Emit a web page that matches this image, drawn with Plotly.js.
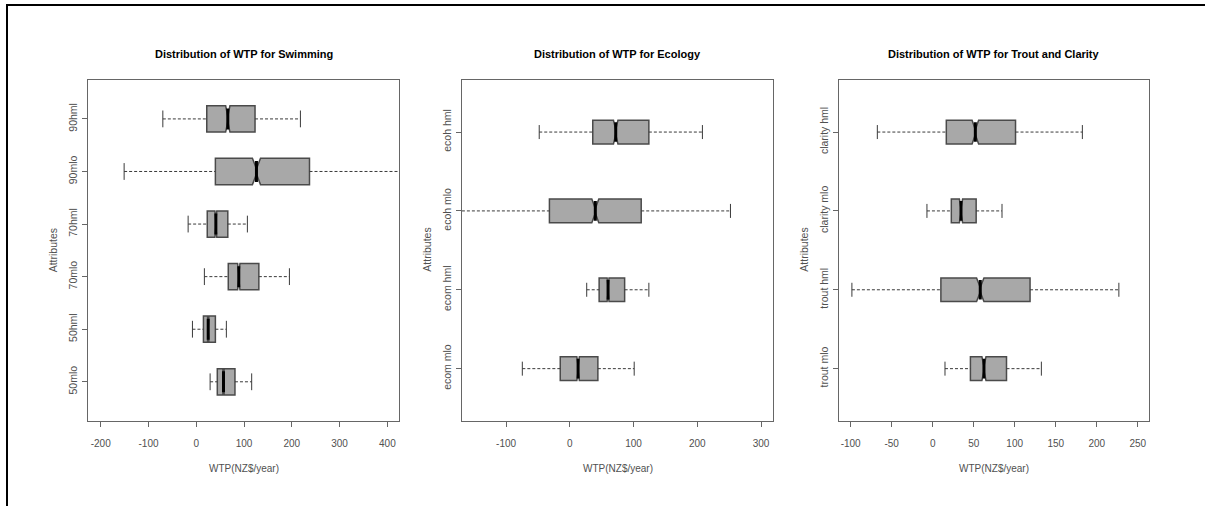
<!DOCTYPE html>
<html>
<head>
<meta charset="utf-8">
<script src="https://cdn.plot.ly/plotly-3.0.1.min.js"></script>
<style>
  html, body { margin: 0; padding: 0; background: #fff; overflow: hidden; }
  #wrap { position: relative; width: 1205px; height: 506px; overflow: hidden; }
  #chart { width: 1205px; height: 506px; }
  #frame { position: absolute; left: 6px; top: 4px; right: 0; bottom: 0;
           border-left: 2px solid #000; border-top: 2px solid #000; pointer-events: none; }
</style>
</head>
<body>
<div id="wrap"><div id="chart"></div><div id="frame"></div></div>
<script>
// ---------- Data ----------
// Panel 1: Swimming (bottom to top)
const swimCats   = ["50mlo", "50hml", "70mlo", "70hml", "90mlo", "90hml"];
const swimLow    = [29, -8, 17, -17, -151, -70];
const swimQ1     = [44, 15, 67, 23, 40, 22];
const swimMed    = [57, 25, 89, 41, 126, 66];
const swimQ3     = [81, 40, 131, 66, 237, 123];
const swimHigh   = [116, 63, 195, 107, 440, 218];
const swimNotch  = [1.5, 1.5, 2.5, 2, 8.5, 4.5];

// Panel 2: Ecology (bottom to top)
const ecoCats    = ["ecom mlo", "ecom hml", "ecoh mlo", "ecoh hml"];
const ecoLow     = [-74.5, 26.5, -185, -48];
const ecoQ1      = [-15, 46, -32, 36];
const ecoMed     = [13, 60, 40, 72];
const ecoQ3      = [44, 86, 112, 124];
const ecoHigh    = [101, 124, 252, 208];
const ecoNotch   = [2, 1.5, 5.5, 3.5];

// Panel 3: Trout and Clarity (bottom to top)
const tcCats     = ["trout mlo", "trout hml", "clarity mlo", "clarity hml"];
const tcLow      = [15, -98.5, -7, -67.5];
const tcQ1       = [46, 10, 22.7, 16.6];
const tcMed      = [62.5, 58, 34.5, 52];
const tcQ3       = [90, 118.7, 53, 101];
const tcHigh     = [132.5, 227, 84.5, 182.5];
const tcNotch    = [2.5, 4.5, 2, 4];

const panelTitles = ["Distribution of WTP for Swimming",
                     "Distribution of WTP for Ecology",
                     "Distribution of WTP for Trout and Clarity"];
const xTitle = "WTP(NZ$/year)";
const yTitle = "Attributes";
const xTicks1 = [-200, -100, 0, 100, 200, 300, 400];
const xTicks2 = [-100, 0, 100, 200, 300];
const xTicks3 = [-100, -50, 0, 50, 100, 150, 200, 250];

// ---------- Layout geometry (pixels) ----------
const W = 1205, H = 506;
const plotTop = 80, plotBottom = 420.7;
const panels = [
  {cats: swimCats, lo: swimLow, q1: swimQ1, med: swimMed, q3: swimQ3, hi: swimHigh, notch: swimNotch,
   left: 88.3, right: 399.3, xr: [-226, 425], yr: [0.26, 6.74], ticks: xTicks1, bw: 0.5, staple: 12, medSize: 15},
  {cats: ecoCats, lo: ecoLow, q1: ecoQ1, med: ecoMed, q3: ecoQ3, hi: ecoHigh, notch: ecoNotch,
   left: 461.7, right: 773.3, xr: [-169.6, 319.2], yr: [0.34, 4.66], ticks: xTicks2, bw: 0.3, staple: 10, medSize: 14},
  {cats: tcCats, lo: tcLow, q1: tcQ1, med: tcMed, q3: tcQ3, hi: tcHigh, notch: tcNotch,
   left: 838.7, right: 1149.3, xr: [-114.6, 264.1], yr: [0.34, 4.66], ticks: xTicks3, bw: 0.3, staple: 10, medSize: 14}
];

const boxFill = "#a8a8a8";
const boxLine = "#4a4a4a";
const whiskCol = "#3a3a3a";
const axisCol = "#666666";
const textCol = "#505050";
const fontH = "Liberation Sans, Arial, sans-serif";
const fontV = "Liberation Sans, Arial, sans-serif";

const traces = [];
const layout = {
  width: W, height: H,
  margin: {l: 0, r: 0, t: 0, b: 0, pad: 0},
  paper_bgcolor: "#ffffff", plot_bgcolor: "#ffffff",
  showlegend: false,
  annotations: [],
  hovermode: false
};

panels.forEach((p, i) => {
  const sfx = i === 0 ? "" : String(i + 1);
  const xa = "x" + sfx, ya = "y" + sfx;
  const pos = p.cats.map((c, k) => k + 1);

  // Notched box (whiskers drawn separately as dashed lines)
  traces.push({
    type: "box", orientation: "h", xaxis: xa, yaxis: ya,
    y: pos, q1: p.q1, median: p.med, q3: p.q3,
    lowerfence: p.q1, upperfence: p.q3,
    notched: true, notchspan: p.notch, notchwidth: 0.4,
    width: p.bw, whiskerwidth: 0, boxpoints: false,
    fillcolor: boxFill, line: {color: boxLine, width: 1.5}
  });

  // Dashed whiskers
  const wx = [], wy = [];
  pos.forEach((y, k) => {
    wx.push(p.lo[k], p.q1[k], null, p.q3[k], p.hi[k], null);
    wy.push(y, y, null, y, y, null);
  });
  traces.push({
    type: "scatter", mode: "lines", xaxis: xa, yaxis: ya, x: wx, y: wy,
    line: {color: whiskCol, width: 1, dash: "3px,2px"}
  });

  // Whisker staples
  const sx = [], sy = [];
  pos.forEach((y, k) => { sx.push(p.lo[k], p.hi[k]); sy.push(y, y); });
  traces.push({
    type: "scatter", mode: "markers", xaxis: xa, yaxis: ya, x: sx, y: sy,
    marker: {symbol: "line-ns-open", size: p.staple, color: whiskCol, line: {color: whiskCol, width: 1}}
  });

  // Thick median line
  traces.push({
    type: "scatter", mode: "markers", xaxis: xa, yaxis: ya, x: p.med, y: pos,
    marker: {symbol: "line-ns-open", size: p.medSize, color: "#000000", line: {color: "#000000", width: 3}}
  });

  const dx = [p.left / W, p.right / W];
  const dy = [1 - plotBottom / H, 1 - plotTop / H];
  layout["xaxis" + sfx] = {
    domain: dx, anchor: ya, range: p.xr,
    showgrid: false, zeroline: false, showline: true, mirror: true,
    linecolor: axisCol, linewidth: 1,
    ticks: "outside", ticklen: 5, tickcolor: axisCol, tickwidth: 1,
    tickmode: "array", tickvals: p.ticks, ticktext: p.ticks.map(v => String(v)),
    ticklabelstandoff: 8,
    tickfont: {family: fontH, size: 10, color: textCol}
  };
  layout["yaxis" + sfx] = {
    domain: dy, anchor: xa, range: p.yr,
    showgrid: false, zeroline: false, showline: true, mirror: true,
    linecolor: axisCol, linewidth: 1,
    ticks: "outside", ticklen: 5, tickcolor: axisCol, tickwidth: 1,
    tickmode: "array", tickvals: pos, ticktext: p.cats, tickangle: -90,
    ticklabelstandoff: 1,
    tickfont: {family: fontV, size: 10.5, color: textCol}
  };

  const cx = (p.left + p.right) / 2 / W;
  layout.annotations.push({
    xref: "paper", yref: "paper", x: cx, y: 1 - 54 / H, xanchor: "center", yanchor: "middle",
    text: "<b>" + panelTitles[i] + "</b>", showarrow: false,
    font: {family: fontV, size: 11, color: "#000000"}
  });
  layout.annotations.push({
    xref: "paper", yref: "paper", x: cx, y: 1 - 468 / H, xanchor: "center", yanchor: "middle",
    text: xTitle, showarrow: false,
    font: {family: fontH, size: 10, color: textCol}
  });
  layout.annotations.push({
    xref: "paper", yref: "paper", x: (p.left - 35) / W, y: 1 - 250 / H, xanchor: "center", yanchor: "middle",
    text: yTitle, showarrow: false, textangle: -90,
    font: {family: fontV, size: 10.5, color: textCol}
  });
});

Plotly.newPlot("chart", traces, layout, {staticPlot: true, displayModeBar: false});
</script>
</body>
</html>
